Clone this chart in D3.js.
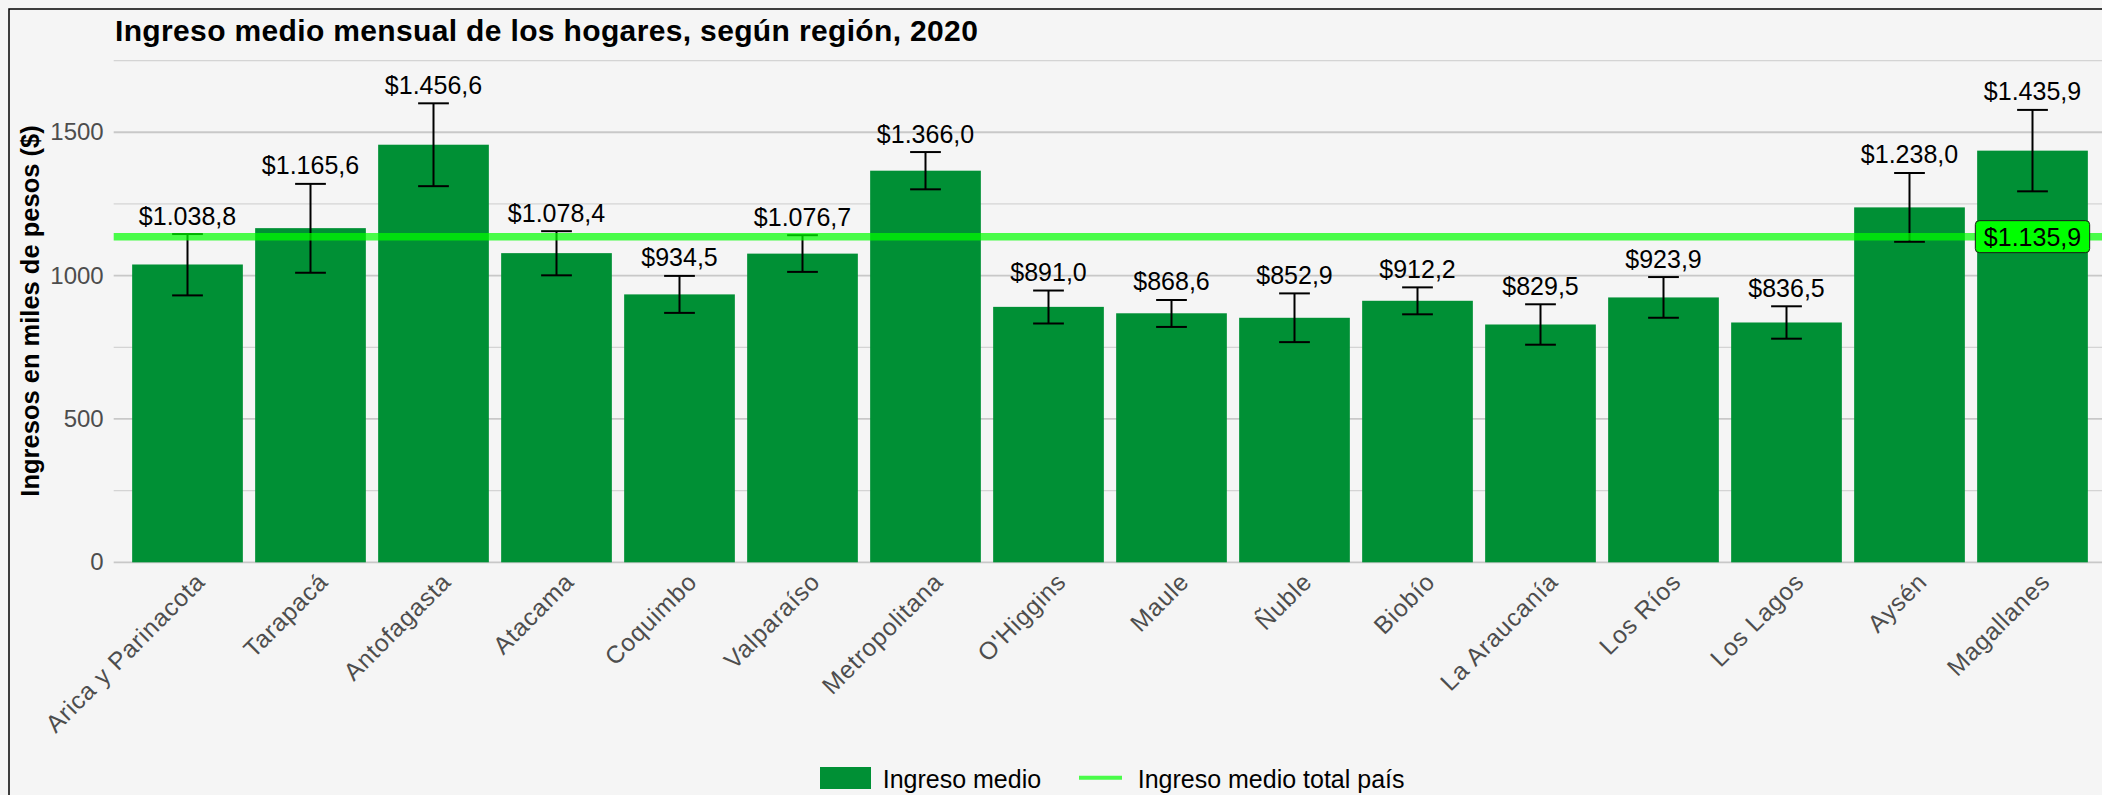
<!DOCTYPE html>
<html>
<head>
<meta charset="utf-8">
<script src="https://cdn.jsdelivr.net/npm/d3@7"></script>
<style>
  html, body { margin: 0; padding: 0; background: #f5f5f5; }
  svg { display: block; font-family: "Liberation Sans", Arial, sans-serif; }
</style>
</head>
<body>
<div id="chart"></div>
<script>
// Ingreso medio mensual de los hogares por región (miles de pesos), 2020
const regiones = ['Arica y Parinacota', 'Tarapacá', 'Antofagasta', 'Atacama', 'Coquimbo', 'Valparaíso',
  'Metropolitana', "O'Higgins", 'Maule', 'Ñuble', 'Biobío', 'La Araucanía', 'Los Ríos', 'Los Lagos',
  'Aysén', 'Magallanes'];
const ingreso = [1038.8, 1165.6, 1456.6, 1078.4, 934.5, 1076.7, 1366.0, 891.0, 868.6, 852.9, 912.2,
  829.5, 923.9, 836.5, 1238.0, 1435.9];
// límites del intervalo de confianza
const limInf = [931, 1010, 1312, 1001, 870, 1013, 1301, 833, 821, 768, 865, 759, 853, 780, 1118, 1294];
const limSup = [1145, 1320, 1601, 1155, 999, 1141, 1431, 948, 915, 938, 959, 900, 995, 893, 1358, 1578];
const ingresoPais = 1135.9;
const yTicks = [0, 500, 1000, 1500];
const yMinorTicks = [250, 750, 1250, 1750];

const width = 2102;
const height = 795;
const verde = '#009035';

const fmt = (v) => '$' + d3.format(',.1f')(v).replace(/,/g, '#').replace('.', ',').replace(/#/g, '.');

const svg = d3.select('#chart')
  .append('svg')
  .attr('width', width)
  .attr('height', height);

svg.append('rect')
  .attr('width', width)
  .attr('height', height)
  .attr('fill', '#f5f5f5');

// marco
svg.append('rect')
  .attr('x', 9)
  .attr('y', 9)
  .attr('width', width + 20)
  .attr('height', height + 20)
  .attr('fill', 'none')
  .attr('stroke', '#000')
  .attr('stroke-width', 1.5);

const x = d3.scaleBand()
  .domain(regiones)
  .range([113.7, 2106.3])
  .paddingInner(0.1)
  .paddingOuter(0.15);

const y = d3.scaleLinear()
  .domain([0, 1750])
  .range([562.3, 60.6]);

const cx = (d) => x(d) + x.bandwidth() / 2;

// grilla
svg.append('g')
  .selectAll('line')
  .data(yMinorTicks)
  .join('line')
  .attr('x1', 113.7)
  .attr('x2', width)
  .attr('y1', (d) => y(d))
  .attr('y2', (d) => y(d))
  .attr('stroke', '#d4d4d4')
  .attr('stroke-width', 1.3);

svg.append('g')
  .selectAll('line')
  .data(yTicks)
  .join('line')
  .attr('x1', 113.7)
  .attr('x2', width)
  .attr('y1', (d) => y(d))
  .attr('y2', (d) => y(d))
  .attr('stroke', '#c8c8c8')
  .attr('stroke-width', 1.8);

// eje y
const yAxis = svg.append('g')
  .attr('transform', 'translate(113.7,0)')
  .call(d3.axisLeft(y).tickValues(yTicks).tickFormat(d3.format('d')).tickSize(0).tickPadding(10));
yAxis.select('.domain').remove();
yAxis.selectAll('text')
  .attr('fill', '#4d4d4d')
  .style('font-size', '24px')
  .style('font-family', '"Liberation Sans", Arial, sans-serif');

svg.append('text')
  .attr('transform', 'translate(39,311) rotate(-90)')
  .attr('text-anchor', 'middle')
  .style('font-size', '25.5px')
  .style('font-weight', 'bold')
  .text('Ingresos en miles de pesos ($)');

// eje x
const xAxis = svg.append('g')
  .attr('transform', 'translate(0,562.3)')
  .call(d3.axisBottom(x).tickSize(0));
xAxis.select('.domain').remove();
xAxis.selectAll('text')
  .attr('y', null)
  .attr('dy', null)
  .attr('transform', 'translate(19,21) rotate(-45)')
  .attr('text-anchor', 'end')
  .attr('fill', '#4d4d4d')
  .style('font-size', '24.5px')
  .style('letter-spacing', '0.8px')
  .style('font-family', '"Liberation Sans", Arial, sans-serif');

// barras
svg.append('g')
  .selectAll('rect')
  .data(regiones)
  .join('rect')
  .attr('x', (d) => x(d))
  .attr('width', x.bandwidth())
  .attr('y', (d, i) => y(ingreso[i]))
  .attr('height', (d, i) => y(0) - y(ingreso[i]))
  .attr('fill', verde);

// barras de error
const capW = x.step() * 0.25;
const err = svg.append('g').attr('stroke', '#000').attr('stroke-width', 2);
err.selectAll('.v')
  .data(regiones)
  .join('line')
  .attr('x1', cx)
  .attr('x2', cx)
  .attr('y1', (d, i) => y(limInf[i]))
  .attr('y2', (d, i) => y(limSup[i]));
err.selectAll('.top')
  .data(regiones)
  .join('line')
  .attr('x1', (d) => cx(d) - capW / 2)
  .attr('x2', (d) => cx(d) + capW / 2)
  .attr('y1', (d, i) => y(limSup[i]))
  .attr('y2', (d, i) => y(limSup[i]));
err.selectAll('.bot')
  .data(regiones)
  .join('line')
  .attr('x1', (d) => cx(d) - capW / 2)
  .attr('x2', (d) => cx(d) + capW / 2)
  .attr('y1', (d, i) => y(limInf[i]))
  .attr('y2', (d, i) => y(limInf[i]));

// línea del promedio país
svg.append('line')
  .attr('x1', 113.7)
  .attr('x2', width)
  .attr('y1', y(ingresoPais))
  .attr('y2', y(ingresoPais))
  .attr('stroke', '#00ff00')
  .attr('stroke-opacity', 0.7)
  .attr('stroke-width', 7.5);

// etiquetas de valor
svg.append('g')
  .selectAll('text')
  .data(regiones)
  .join('text')
  .attr('x', cx)
  .attr('y', (d, i) => y(limSup[i]) - 9.5)
  .attr('text-anchor', 'middle')
  .style('font-size', '25px')
  .text((d, i) => fmt(ingreso[i]));

// etiqueta del promedio país
const last = regiones[regiones.length - 1];
const tag = svg.append('g');
const tagBox = tag.append('rect');
const tagText = tag.append('text')
  .attr('x', cx(last))
  .attr('y', y(ingresoPais))
  .attr('dy', '0.37em')
  .attr('text-anchor', 'middle')
  .style('font-size', '25px')
  .text(fmt(ingresoPais));
const tw = tagText.node().getComputedTextLength();
tagBox
  .attr('x', cx(last) - tw / 2 - 8.5)
  .attr('y', y(ingresoPais) - 16)
  .attr('width', tw + 17)
  .attr('height', 32)
  .attr('rx', 4)
  .attr('fill', '#00ff00')
  .attr('stroke', '#1a1a1a')
  .attr('stroke-width', 1);

// título
svg.append('text')
  .attr('x', 115)
  .attr('y', 41)
  .style('font-size', '30px')
  .style('font-weight', 'bold')
  .style('letter-spacing', '0.35px')
  .text('Ingreso medio mensual de los hogares, según región, 2020');

// leyenda
const leg = svg.append('g');
leg.append('rect')
  .attr('x', 820)
  .attr('y', 767)
  .attr('width', 51)
  .attr('height', 22)
  .attr('fill', verde);
leg.append('text')
  .attr('x', 882.7)
  .attr('y', 787.7)
  .style('font-size', '25px')
  .text('Ingreso medio');
leg.append('line')
  .attr('x1', 1079)
  .attr('x2', 1122)
  .attr('y1', 777.7)
  .attr('y2', 777.7)
  .attr('stroke', '#00ff00')
  .attr('stroke-opacity', 0.7)
  .attr('stroke-width', 4);
leg.append('text')
  .attr('x', 1137.7)
  .attr('y', 787.7)
  .style('font-size', '25px')
  .text('Ingreso medio total país');
</script>
</body>
</html>
